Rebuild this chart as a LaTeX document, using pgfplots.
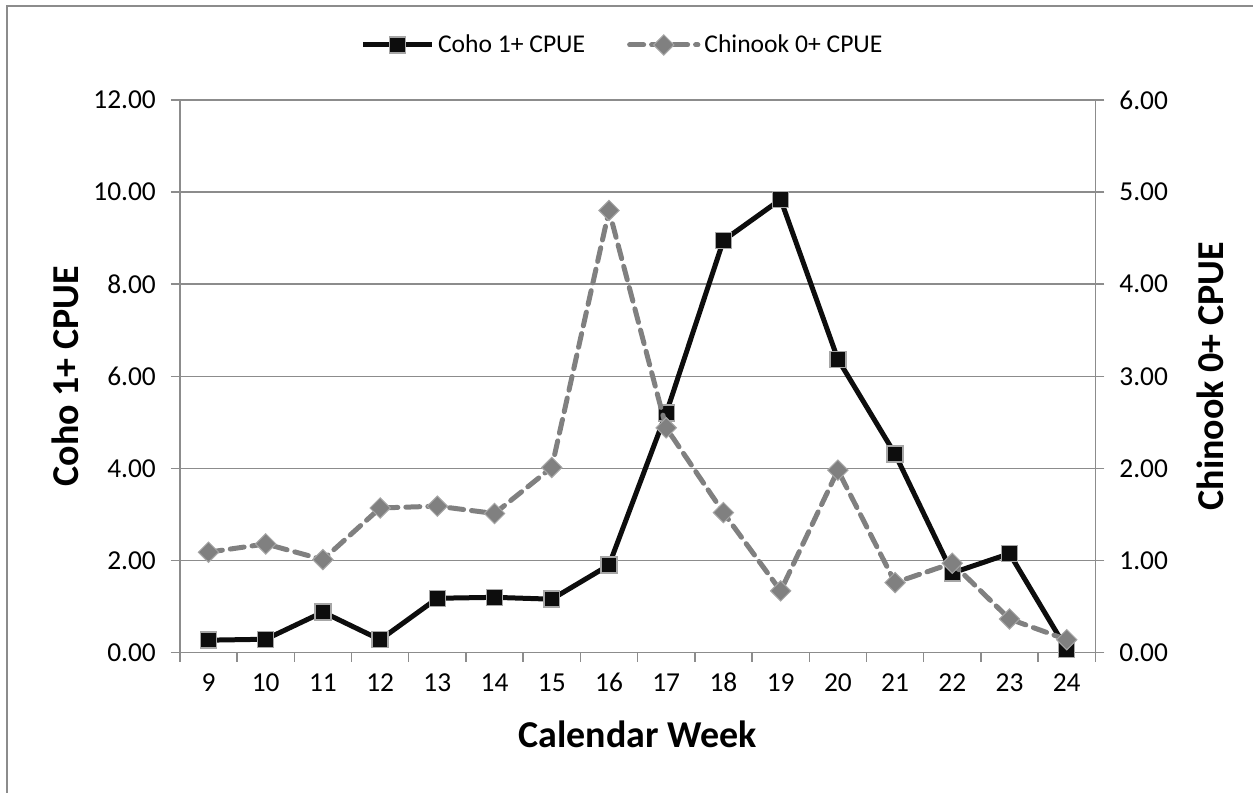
\documentclass[border=0pt]{standalone}
\usepackage{pgfplots}
\pgfplotsset{compat=1.18}
\usepackage{fontspec}
\setmainfont{Carlito}
\definecolor{axgray}{HTML}{8C8C8C}
\definecolor{chin}{HTML}{808080}
\definecolor{mkedge}{HTML}{A6A6A6}
\begin{document}
\begin{tikzpicture}[x=0.5pt,y=0.5pt]
\pgfplotsset{
  cohostyle/.style={line width=2.5pt, color=black!95, mark=square*, mark size=4pt,
     mark options={solid, fill=black!95, draw=mkedge, line width=0.7pt}},
  chinstyle/.style={line width=2.5pt, color=chin, dash pattern=on 7pt off 4pt, line cap=round, mark=square*, mark size=3.6pt,
     mark options={solid, rotate=45, fill=chin, draw=mkedge, line width=0.5pt}},
  common/.style={
    width=458pt, height=276.5pt, scale only axis,
    xmin=8.5, xmax=24.5,
    /pgf/number format/assume math mode=true,
    tick label style={font=\fontsize{13.7}{16}\selectfont},
    label style={font=\fontsize{19}{22}\selectfont\bfseries},
    axis line style={axgray, line width=0.7pt},
    tick style={axgray, line width=0.7pt},
    yticklabel style={/pgf/number format/fixed, /pgf/number format/fixed zerofill, /pgf/number format/precision=2},
    tick align=outside,
    major tick length=4.5pt,
    minor tick length=4.5pt,
  },
  legend image code/.code={\draw[mark repeat=2,mark phase=2] plot coordinates {(0cm,0cm) (0.6cm,0cm) (1.2cm,0cm)};}
}
% frame
\draw[axgray, line width=0.75pt] (-173,-140) -- (-173,647) -- (1074,647);
\path[use as bounding box] (-180,-134) rectangle (1074,653);
\begin{axis}[common,
  at={(0,0)}, anchor=south west,
  ymin=0, ymax=12, ytick={0,2,...,12},
  axis y line*=left, axis x line*=bottom,
  xtick={9,...,24}, major x tick style={draw=none},
  minor xtick={8.5,9.5,...,24.5},
  ymajorgrids, grid style={axgray, line width=0.7pt},
  xlabel={Calendar Week}, ylabel={Coho 1+ CPUE},
  xlabel style={at={(axis description cs:0.5,-0.148)}, anchor=center},
  ylabel style={at={(axis description cs:-0.1255,0.5)}, anchor=center, rotate=0},
  xticklabel style={yshift=-4.5pt, text height=1.5ex, text depth=0.25ex},
  yticklabel style={xshift=-4pt},
  clip=false,
]
\addplot[cohostyle] coordinates {
(9,0.27) (10,0.29) (11,0.88) (12,0.28) (13,1.18) (14,1.20) (15,1.16) (16,1.90)
(17,5.20) (18,8.95) (19,9.84) (20,6.37) (21,4.31) (22,1.73) (23,2.15) (24,0.07)
};
\end{axis}
\begin{axis}[common,
  at={(0,0)}, anchor=south west,
  ymin=0, ymax=6, ytick={0,1,...,6},
  axis y line*=right, axis x line=none,
  ylabel={Chinook 0+ CPUE},
  ylabel style={at={(axis description cs:1.126,0.5)}, anchor=center, rotate=0},
  yticklabel style={xshift=4pt},
  legend style={at={(axis description cs:0.5,1.0)}, yshift=27.5pt, xshift=-7pt, anchor=center, draw=none, fill=none,
     legend columns=2, font=\fontsize{12.8}{15}\selectfont,
     /tikz/every even column/.append style={column sep=19pt}},
  clip=false,
]
\addlegendimage{cohostyle}
\addlegendentry{Coho 1+ CPUE}
\addplot[chinstyle] coordinates {
(9,1.09) (10,1.18) (11,1.01) (12,1.57) (13,1.59) (14,1.51) (15,2.01) (16,4.80)
(17,2.44) (18,1.52) (19,0.67) (20,1.98) (21,0.76) (22,0.97) (23,0.365) (24,0.14)
};
\addlegendentry{Chinook 0+ CPUE}
\end{axis}
\end{tikzpicture}
\end{document}
